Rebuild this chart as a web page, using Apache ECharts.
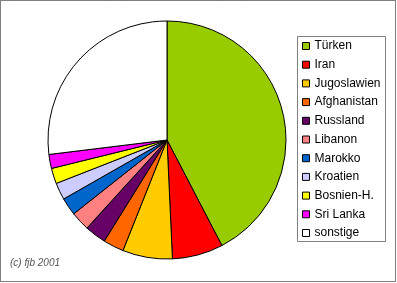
<!DOCTYPE html>
<html><head><meta charset="utf-8">
<script src="https://cdn.jsdelivr.net/npm/echarts@6/dist/echarts.min.js"></script>
<style>html,body{margin:0;padding:0;background:#fff}#c{width:397px;height:283px}</style>
</head><body><div id="c"></div>
<script>
const categories = ['Türken','Iran','Jugoslawien','Afghanistan','Russland','Libanon','Marokko','Kroatien','Bosnien-H.','Sri Lanka','sonstige'];
const values = [42.3, 6.9, 6.75, 2.8, 2.9, 2.6, 2.4, 2.3, 2.1, 1.9, 26.9];
const colors = ['#99CC00','#FF0000','#FFCC00','#FF6600','#660066','#FF8080','#0066CC','#CCCCFF','#FFFF00','#FF00FF','#FFFFFF'];

const chart = echarts.init(document.getElementById('c'), null, {renderer:'canvas'});
chart.setOption({
  animation: false,
  color: colors,
  graphic: [
    {type:'rect', shape:{x:0.5,y:0.5,width:395,height:281}, style:{fill:'none',stroke:'#000',lineWidth:1,lineDash:[1,1]}, z:-1},
    {type:'rect', shape:{x:297.5,y:36.5,width:88,height:205}, style:{fill:'#fff',stroke:'#808080',lineWidth:1}, z:-1},
    {type:'text', left:10, top:258, style:{text:'(c) fjb 2001', font:'italic 10px "Liberation Sans", Arial', fill:'#555'}}
  ],
  legend: {
    orient:'vertical', left:302, top:40,
    itemWidth:7, itemHeight:7, itemGap:6.7, icon:'rect',
    padding:0,
    textStyle:{fontFamily:'"Liberation Sans", Arial', fontSize:12, color:'#000', lineHeight:12},
    itemStyle:{borderColor:'#000', borderWidth:1},
    data: categories
  },
  series: [{
    type:'pie', center:[167,140], radius:119, startAngle:90, clockwise:true,
    label:{show:false}, labelLine:{show:false},
    itemStyle:{borderColor:'#000', borderWidth:1},
    emphasis:{disabled:true},
    data: categories.map((n,i)=>({name:n, value:values[i]}))
  }]
});
</script></body></html>
